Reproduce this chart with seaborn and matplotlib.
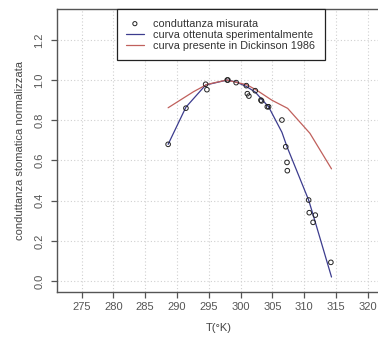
import matplotlib
matplotlib.use("Agg")
import matplotlib.pyplot as plt
import seaborn as sns
import pandas as pd

# measured conductance
T_meas = [288.6, 291.4, 294.5, 294.7, 297.9, 298.0, 299.3, 300.9, 301.06, 301.3,
          302.3, 303.2, 303.3, 304.2, 304.4, 306.5, 307.1, 307.3, 307.35,
          310.7, 310.8, 311.4, 311.75, 314.2]
g_meas = [0.68, 0.86, 0.979, 0.952, 1.0, 1.0, 0.987, 0.972, 0.932, 0.92,
          0.947, 0.90, 0.896, 0.867, 0.867, 0.801, 0.668, 0.590, 0.549,
          0.403, 0.340, 0.292, 0.328, 0.093]

# experimental fitted curve
T_fit = [288.6, 291.4, 294.5, 297.9, 299.3, 300.9, 302.3, 303.3, 304.4,
         306.5, 307.3, 310.7, 311.4, 314.3]
g_fit = [0.68, 0.865, 0.975, 1.0, 0.99, 0.968, 0.94, 0.905, 0.867,
         0.74, 0.668, 0.403, 0.33, 0.02]

# Dickinson 1986 curve
T_dick = [288.6, 292.6, 294.7, 297.8, 301.0, 302.5, 304.9, 307.4, 310.9, 314.3]
g_dick = [0.862, 0.942, 0.978, 1.0, 0.976, 0.95, 0.90, 0.859, 0.735, 0.558]

x_ticks = [275, 280, 285, 290, 295, 300, 305, 310, 315, 320]
y_ticks = [0.0, 0.2, 0.4, 0.6, 0.8, 1.0, 1.2]

labels = ["conduttanza misurata", "curva ottenuta sperimentalmente",
          "curva presente in Dickinson 1986"]

sns.set_style("white")
plt.rcParams['font.family'] = ['Liberation Sans', 'DejaVu Sans']

W, H = 378, 345
fig = plt.figure(figsize=(W / 100, H / 100), dpi=100)
left_px, right_px, top_px, bot_px = 57.0, 379.7, 9.25, 291.5
ax = fig.add_axes([left_px / W, 1 - bot_px / H, (right_px - left_px) / W, (bot_px - top_px) / H])

df_meas = pd.DataFrame({"T": T_meas, "g": g_meas})
df_fit = pd.DataFrame({"T": T_fit, "g": g_fit})
df_dick = pd.DataFrame({"T": T_dick, "g": g_dick})

blue = "#3c3c8e"
red = "#c0605c"

sns.scatterplot(data=df_meas, x="T", y="g", ax=ax, marker="o", s=11,
                facecolor="none", edgecolor="#222222", linewidth=0.7,
                label=labels[0], zorder=3)
sns.lineplot(data=df_fit, x="T", y="g", ax=ax, sort=False, estimator=None,
             color=blue, linewidth=0.9, label=labels[1], zorder=2)
sns.lineplot(data=df_dick, x="T", y="g", ax=ax, sort=False, estimator=None,
             color=red, linewidth=0.9, label=labels[2], zorder=2)

ax.set_xlim(271.12, 321.88)
ax.set_ylim(-0.052, 1.352)
ax.set_xticks(x_ticks)
ax.set_yticks(y_ticks)
ax.set_xticklabels([str(t) for t in x_ticks])
ax.set_yticklabels([f"{v:.1f}" for v in y_ticks], rotation=90, va="center")

ax.grid(True, color="#d0d0d0", linestyle=(0, (1, 2)), linewidth=0.8)
ax.set_axisbelow(True)

for name, sp in ax.spines.items():
    sp.set_color("#555555")
    sp.set_linewidth(1.0)
ax.spines['right'].set_visible(False)

ax.tick_params(axis="both", direction="out", length=4.5, width=0.9,
               color="#555555", labelcolor="#555555", labelsize=8,
               bottom=True, left=True)
ax.tick_params(axis="x", pad=3)
ax.tick_params(axis="y", pad=4.5)

ax.set_xlabel("T(°K)", fontsize=8, color="#444444", labelpad=8)
ax.set_ylabel("conduttanza stomatica normalizzata", fontsize=8, color="#444444", labelpad=7)

leg = ax.legend(loc="upper left", bbox_to_anchor=(117 / W, 1 - 9.3 / H),
                bbox_transform=fig.transFigure, borderaxespad=0,
                fontsize=7.8, frameon=True, fancybox=False, edgecolor="#222222",
                framealpha=1, handlelength=1.6, handletextpad=0.9,
                labelspacing=0.1, borderpad=0.85, markerscale=0.9)
leg.get_frame().set_linewidth(0.9)
for t in leg.get_texts():
    t.set_color("#333333")

fig.savefig("out.png", dpi=100)
